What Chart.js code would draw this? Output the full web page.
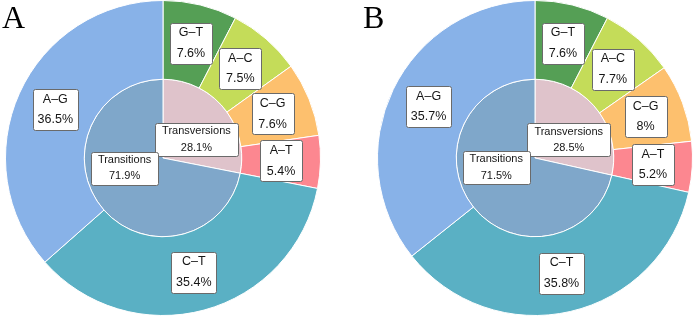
<!DOCTYPE html>
<html>
<head>
<meta charset="utf-8">
<style>
  html, body { margin: 0; padding: 0; background: #fff; }
  #wrap { position: relative; width: 694px; height: 318px; overflow: hidden; }
  canvas { position: absolute; top: 0; }
  .panel { position: absolute; font-family: "Liberation Serif", "Times New Roman", serif; font-size: 32px; line-height: 32px; color: #000; }
</style>
</head>
<body>
<div id="wrap">
  <canvas id="chartA" width="316" height="316" style="left:5px"></canvas>
  <canvas id="chartB" width="316" height="316" style="left:377px"></canvas>
  <div class="panel" style="left:2px; top:1px">A</div>
  <div class="panel" style="left:363px; top:1px">B</div>
</div>

<script src="https://cdn.jsdelivr.net/npm/chart.js"></script>
<script>
// Datos
const mutTypes = ['G–T', 'A–C', 'C–G', 'A–T', 'C–T', 'A–G'];
const classTypes = ['Transversions', 'Transitions'];

const pctA = [7.6, 7.5, 7.6, 5.4, 35.4, 36.5];
const classA = [28.1, 71.9];

const pctB = [7.6, 7.7, 8, 5.2, 35.8, 35.7];
const classB = [28.5, 71.5];

// Colores
const mutColors = ['#559f55', '#c4dc59', '#fdc06e', '#fc8790', '#5ab0c4', '#88b2e8'];
const classColors = ['#dfc3cb', '#7fa7ca'];

// desplazamiento de las etiquetas internas (px)
const innerNudge = [[3, 6.5], [-8, -15]];

const boxLabels = {
    id: 'boxLabels',
    afterDatasetsDraw(chart) {
        const ctx = chart.ctx;
        chart.data.datasets.forEach((ds, d) => {
            const meta = chart.getDatasetMeta(d);
            const inner = d === 1;
            const fontSize = inner ? 11 : 12.5;
            const gap = inner ? 16.5 : 20.5;
            const padX = inner ? 7 : 5;
            const minW = inner ? 0 : 42;
            const boxH = inner ? 33 : 41;
            ctx.save();
            ctx.font = fontSize + 'px "Liberation Sans", Arial, Helvetica, sans-serif';
            ctx.textAlign = 'center';
            ctx.textBaseline = 'middle';
            meta.data.forEach((arc, i) => {
                const p = arc.tooltipPosition();
                let cx = p.x, cy = p.y;
                if (inner) {
                    cx += innerNudge[i][0];
                    cy += innerNudge[i][1];
                }
                const lines = [ds.names[i], ds.data[i] + '%'];
                const w = Math.max(minW, Math.max(...lines.map(t => ctx.measureText(t).width)) + padX * 2);
                const x = Math.round(cx - w / 2) + 0.5;
                const y = Math.round(cy - boxH / 2) + 0.5;
                ctx.beginPath();
                ctx.roundRect(x, y, Math.round(w), boxH, 2);
                ctx.fillStyle = '#ffffff';
                ctx.fill();
                ctx.lineWidth = 1;
                ctx.strokeStyle = '#6a6a6a';
                ctx.stroke();
                ctx.fillStyle = '#151515';
                ctx.fillText(lines[0], cx, cy - gap / 2);
                ctx.fillText(lines[1], cx, cy + gap / 2);
            });
            ctx.restore();
        });
    }
};

function makeChart(id, outer, inner) {
    const ctx = document.getElementById(id).getContext('2d');
    return new Chart(ctx, {
        type: 'doughnut',
        data: {
            labels: mutTypes,
            datasets: [
                {
                    data: outer,
                    names: mutTypes,
                    backgroundColor: mutColors,
                    borderColor: '#ffffff',
                    borderWidth: 1
                },
                {
                    data: inner,
                    names: classTypes,
                    backgroundColor: classColors,
                    borderColor: '#ffffff',
                    borderWidth: 1
                }
            ]
        },
        options: {
            responsive: false,
            animation: false,
            cutout: 0,
            events: [],
            plugins: {
                legend: { display: false },
                tooltip: { enabled: false }
            }
        },
        plugins: [boxLabels]
    });
}

makeChart('chartA', pctA, classA);
makeChart('chartB', pctB, classB);
</script>
</body>
</html>
